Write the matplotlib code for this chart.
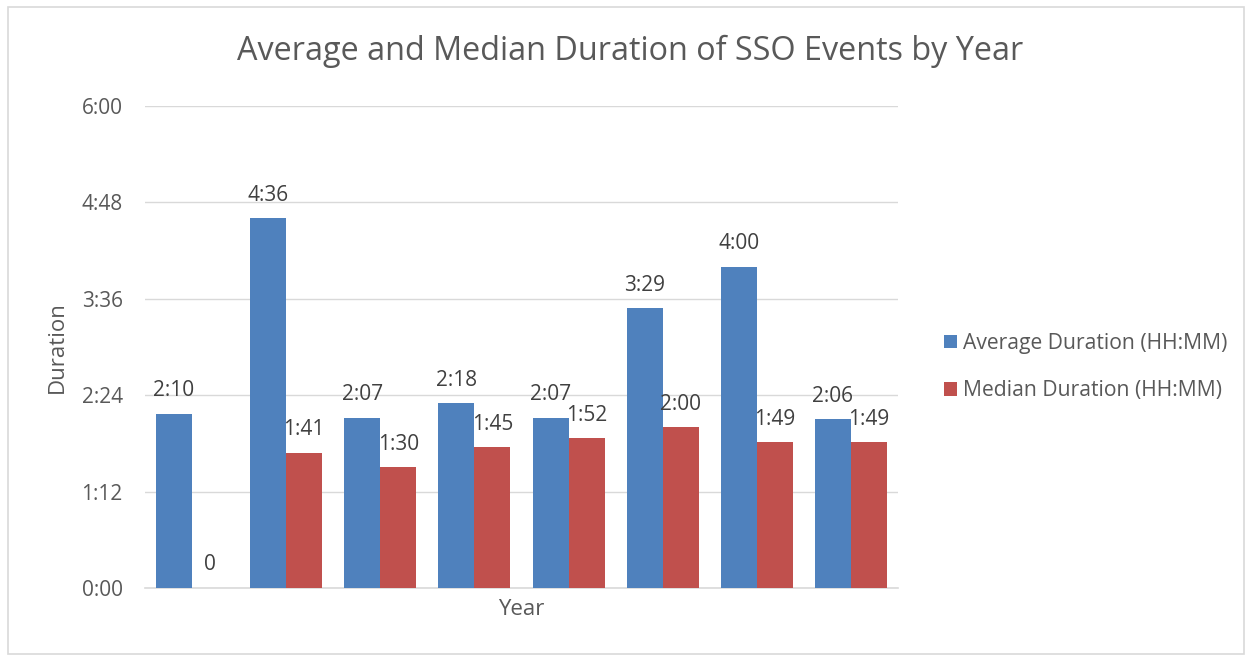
import numpy as np
import matplotlib.pyplot as plt
from matplotlib.patches import Rectangle

# durations in minutes
avg_minutes = [130, 276, 127, 138, 127, 209, 240, 126]
median_minutes = [0, 101, 90, 105, 112, 120, 109, 109]
series_names = ['Average Duration (HH:MM)', 'Median Duration (HH:MM)']
y_ticks = [0, 72, 144, 216, 288, 360]

BLUE = '#4F81BD'
RED = '#C0504D'
TXT = '#595959'

plt.rcParams['font.family'] = ['Open Sans', 'DejaVu Sans']


def hhmm(m):
  return '{}:{:02d}'.format(int(m) // 60, int(m) % 60)


fig = plt.figure(figsize=(12.5, 6.58), dpi=100)
ax = fig.add_axes([0.116, 0.1064, 0.6024, 0.7326])

x = np.arange(len(avg_minutes))
w = 0.383
b1 = ax.bar(x - w / 2, avg_minutes, w, color=BLUE, label=series_names[0], zorder=3)
b2 = ax.bar(x + w / 2, median_minutes, w, color=RED, label=series_names[1], zorder=3)

for rects, vals in ((b1, avg_minutes), (b2, median_minutes)):
  for r, v in zip(rects, vals):
    lab = hhmm(v) if v > 0 else '0'
    ax.annotate(lab, (r.get_x() + r.get_width() / 2, v), xytext=(0, 9),
                textcoords='offset points', ha='center', va='bottom',
                fontsize=15, color='#404040')

ax.set_xlim(-0.5, len(x) - 0.5)
ax.set_ylim(0, 360)
ax.set_yticks(y_ticks)
ax.set_yticklabels([hhmm(t) for t in y_ticks], fontsize=15, color=TXT)
ax.set_xticks([])
ax.tick_params(axis='y', length=0, pad=16)
ax.grid(axis='y', color='#D9D9D9', linewidth=1, zorder=0)
for s in ('top', 'right', 'left'):
  ax.spines[s].set_visible(False)
ax.spines['bottom'].set_color('#D9D9D9')
ax.spines['bottom'].set_linewidth(1.2)

ax.set_xlabel('Year', fontsize=16, color=TXT, labelpad=8)
ax.set_ylabel('Duration', fontsize=16, color=TXT, labelpad=10)

fig.text(0.504, 0.922, 'Average and Median Duration of SSO Events by Year',
         ha='center', va='center', fontsize=23.3, color=TXT)

fig.legend(handles=[b1, b2], loc='center left', bbox_to_anchor=(0.74, 0.442),
           frameon=False, fontsize=15.2, labelcolor=TXT, handlelength=0.6,
           handleheight=0.6, handletextpad=0.3, labelspacing=1.25)

fig.patches.append(Rectangle((0.006, 0.006), 0.989, 0.984, transform=fig.transFigure,
                             fill=False, edgecolor='#D9D9D9', linewidth=1.2))

fig.savefig('out.png', dpi=100)
